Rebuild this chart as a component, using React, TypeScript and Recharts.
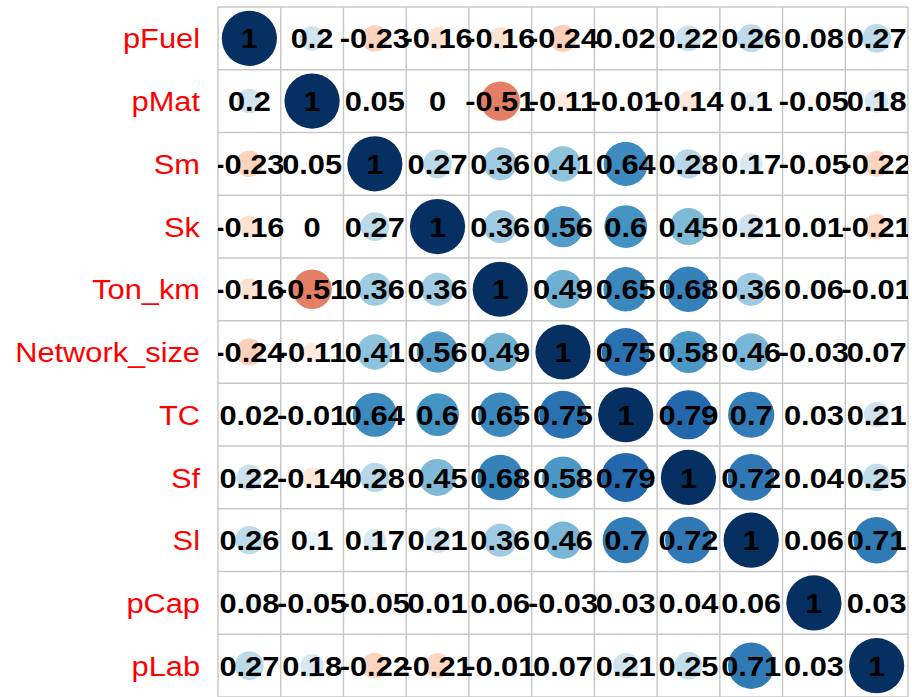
import React from 'react';
import { ScatterChart, Scatter, XAxis, YAxis, ReferenceLine } from 'recharts';

const variables = ['pFuel', 'pMat', 'Sm', 'Sk', 'Ton_km', 'Network_size', 'TC', 'Sf', 'Sl', 'pCap', 'pLab'];

const pFuel = [1, 0.2, -0.23, -0.16, -0.16, -0.24, 0.02, 0.22, 0.26, 0.08, 0.27];
const pMat = [0.2, 1, 0.05, 0, -0.51, -0.11, -0.01, -0.14, 0.1, -0.05, 0.18];
const Sm = [-0.23, 0.05, 1, 0.27, 0.36, 0.41, 0.64, 0.28, 0.17, -0.05, -0.22];
const Sk = [-0.16, 0, 0.27, 1, 0.36, 0.56, 0.6, 0.45, 0.21, 0.01, -0.21];
const TonKm = [-0.16, -0.51, 0.36, 0.36, 1, 0.49, 0.65, 0.68, 0.36, 0.06, -0.01];
const NetworkSize = [-0.24, -0.11, 0.41, 0.56, 0.49, 1, 0.75, 0.58, 0.46, -0.03, 0.07];
const TC = [0.02, -0.01, 0.64, 0.6, 0.65, 0.75, 1, 0.79, 0.7, 0.03, 0.21];
const Sf = [0.22, -0.14, 0.28, 0.45, 0.68, 0.58, 0.79, 1, 0.72, 0.04, 0.25];
const Sl = [0.26, 0.1, 0.17, 0.21, 0.36, 0.46, 0.7, 0.72, 1, 0.06, 0.71];
const pCap = [0.08, -0.05, -0.05, 0.01, 0.06, -0.03, 0.03, 0.04, 0.06, 1, 0.03];
const pLab = [0.27, 0.18, -0.22, -0.21, -0.01, 0.07, 0.21, 0.25, 0.71, 0.03, 1];

const matrix = [pFuel, pMat, Sm, Sk, TonKm, NetworkSize, TC, Sf, Sl, pCap, pLab];

// corrplot RdBu ramp, -1 .. 1
const palette = ['#67001F', '#B2182B', '#D6604D', '#F4A582', '#FDDBC7', '#FFFFFF', '#D1E5F0', '#92C5DE', '#4393C3', '#2166AC', '#053061'];

const hexToRgb = (h: string) => [parseInt(h.slice(1, 3), 16), parseInt(h.slice(3, 5), 16), parseInt(h.slice(5, 7), 16)];

const corrColor = (v: number) => {
  const t = ((v + 1) / 2) * (palette.length - 1);
  const i = Math.min(Math.floor(t), palette.length - 2);
  const f = t - i;
  const a = hexToRgb(palette[i]);
  const b = hexToRgb(palette[i + 1]);
  const c = a.map((x, k) => Math.round(x + (b[k] - x) * f));
  return `rgb(${c[0]},${c[1]},${c[2]})`;
};

const W = 912;
const H = 697;
const margin = { top: 7, right: 4, bottom: 0, left: 0 };
const yAxisWidth = 218;
const n = variables.length;
const cellW = (W - margin.left - margin.right - yAxisWidth) / n;
const stretch = 1.1; // the original png is a bit wider than tall

const cells = matrix.flatMap((row, i) => row.map((r, j) => ({ x: j + 1, y: i + 1, r })));

const bounds = Array.from({ length: n + 1 }, (_, k) => k + 0.5);

const CircleShape = (props: any) => {
  const { cx, cy, payload } = props;
  const radius = Math.sqrt(Math.abs(payload.r)) * cellW * 0.44;
  return <circle cx={cx} cy={cy} r={radius} fill={corrColor(payload.r)} />;
};

const LabelShape = (props: any) => {
  const { cx, cy, payload } = props;
  return (
    <text
      transform={`translate(${cx},${cy}) scale(${stretch},1)`}
      dy="0.36em"
      textAnchor="middle"
      fontFamily="Liberation Sans, Arial, sans-serif"
      fontWeight="bold"
      fontSize={28}
      fill="#000000"
    >
      {String(payload.r)}
    </text>
  );
};

const VarTick = (props: any) => {
  const { x, y, payload } = props;
  return (
    <text
      transform={`translate(${x},${y}) scale(${stretch},1)`}
      dy="0.36em"
      textAnchor="end"
      fontFamily="Liberation Sans, Arial, sans-serif"
      fontSize={28}
      fill="#FF0000"
    >
      {variables[payload.value - 1]}
    </text>
  );
};

const App: React.FC = () => {
  return (
    <div style={{ position: 'absolute', left: 0, top: 0, background: '#ffffff' }}>
      <ScatterChart width={W} height={H} margin={margin}>
        <XAxis type="number" dataKey="x" domain={[0.5, n + 0.5]} hide allowDataOverflow />
        <YAxis
          type="number"
          dataKey="y"
          domain={[0.5, n + 0.5]}
          ticks={variables.map((_, k) => k + 1)}
          reversed
          allowDataOverflow
          width={yAxisWidth}
          axisLine={false}
          tickLine={false}
          tickSize={0}
          tickMargin={18}
          tick={<VarTick />}
          interval={0}
        />
        {bounds.map((b) => (
          <ReferenceLine key={`v${b}`} x={b} stroke="#c8c8c8" strokeWidth={1.5} ifOverflow="extendDomain" />
        ))}
        {bounds.map((b) => (
          <ReferenceLine key={`h${b}`} y={b} stroke="#c8c8c8" strokeWidth={1.5} ifOverflow="extendDomain" />
        ))}
        <Scatter data={cells} shape={<CircleShape />} isAnimationActive={false} />
        <Scatter data={cells} shape={<LabelShape />} isAnimationActive={false} />
      </ScatterChart>
    </div>
  );
};

export default App;
